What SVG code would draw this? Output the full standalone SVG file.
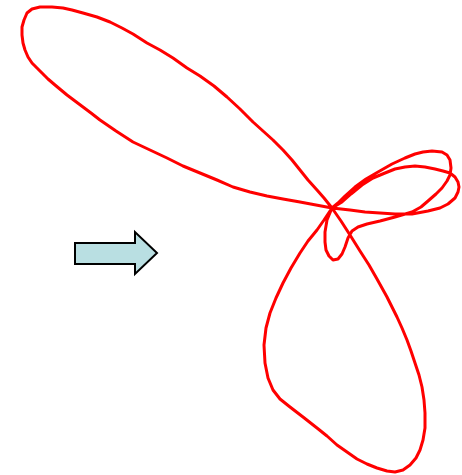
<svg xmlns="http://www.w3.org/2000/svg" width="462" height="475" viewBox="0 0 462 475">
<style>
.curve{fill:none;stroke:#ff0000;stroke-width:3;stroke-linejoin:round;stroke-linecap:round}
.arrow{fill:#b9dfe2;stroke:#000000;stroke-width:2;stroke-linejoin:miter}
</style>
<rect width="462" height="475" fill="#ffffff"/>
<polygon id="arrow" class="arrow" points="75,243 135,243 135,232 157,253 135,274 135,264 75,264"/>
<path id="curve" class="curve" d="M332,208 L350,210 365,212 380,213 395,214 412,214 428,211 440,208 448,204 455,198 458,192 459,187 458,182 455,177 450,173 443,171 435,169 425,167 415,166 405,167 395,169 385,173 373,178 362,185 351,194 342,202 332,208
L327,220 325,232 325,242 326,250 329,256 333,260 338,259 342,254 345,247 348,238 352,231 358,227 367,224 380,221 395,217 412,212 421,207 428,201 436,194 442,188 447,181 450,175 451,168 450,160 447,155 442,152 432,151 423,152 415,154 405,158 392,164 378,172 366,179 355,187 345,196 338,203 332,208
L324,220 317,230 308,241 300,253 291,268 283,283 276,298 270,313 266,328 264,345 265,363 268,378 273,390 280,399 290,407 303,417 317,428 327,436 337,445 347,452 357,459 367,464 377,468 387,471 395,472 403,470 410,465 416,458 420,450 423,440 425,428 425,413 424,400 422,387 419,375 415,363 411,351 407,340 402,328 397,317 392,307 387,297 382,288 377,279 369,265 360,251 350,235 341,221 332,208
L324,198 317,190 308,180 300,170 292,160 283,150 273,140 263,131 253,122 240,109 227,97 214,86 200,76 187,68 173,58 160,50 147,43 133,34 122,28 110,22 97,17 83,13 72,10 63,8 52,7 40,7 32,9 27,13 24,20 22,27 22,35 23,43 25,50 28,57 32,63 37,68 42,73 48,79 55,85 61,90 67,95 75,101 83,107 91,113 100,120 116,131 133,142 150,150 167,158 183,166 200,173 217,180 233,187 250,192 267,196 283,199 300,202 316,205 Z"/>
</svg>
